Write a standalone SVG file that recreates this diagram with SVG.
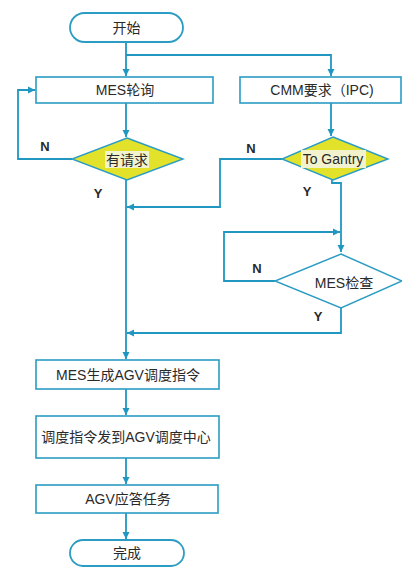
<svg xmlns="http://www.w3.org/2000/svg" width="402" height="568" viewBox="0 0 402 568">
<style>
.box{fill:#fff;stroke:#2b9cc3;stroke-width:1.6}
.term{fill:#fff;stroke:#2b9cc3;stroke-width:1.8}
.dy{fill:#e2e22a;stroke:#2b9cc3;stroke-width:1.4}
.dw{fill:#fff;stroke:#2b9cc3;stroke-width:1.4}
.ln{fill:none;stroke:#1f97c0;stroke-width:1.8}
text{font-family:"Liberation Sans","Noto Sans CJK SC",sans-serif;font-size:14px;fill:#2a2a2a;text-anchor:middle;dominant-baseline:central}
.lb{font-weight:bold;font-size:13px}
</style>
<defs>
<marker id="ar" markerWidth="8" markerHeight="8" refX="7" refY="4" orient="auto" markerUnits="userSpaceOnUse">
<path d="M0,0.5 L7,4 L0,7.5 Z" fill="#1f97c0"/>
</marker>
</defs>
<rect width="402" height="568" fill="#fff"/>
<g id="connectors">
<path class="ln" d="M126,42 V76" marker-end="url(#ar)"/>
<path class="ln" d="M126,55 H331 V76" marker-end="url(#ar)"/>
<path class="ln" d="M126,103 V137" marker-end="url(#ar)"/>
<path class="ln" d="M331,103 V136" marker-end="url(#ar)"/>
<path class="ln" d="M72,159 H18 V90 H35" marker-end="url(#ar)"/>
<path class="ln" d="M282,159 H220 V207 H127" marker-end="url(#ar)"/>
<path class="ln" d="M332,180 V183 H341 V252" marker-end="url(#ar)"/>
<path class="ln" d="M275,281 H224 V232 H340" marker-end="url(#ar)"/>
<path class="ln" d="M341,308 V333 H127" marker-end="url(#ar)"/>
<path class="ln" d="M126,180 V359" marker-end="url(#ar)"/>
<path class="ln" d="M126,389 V415" marker-end="url(#ar)"/>
<path class="ln" d="M126,458 V484" marker-end="url(#ar)"/>
<path class="ln" d="M126,513 V539" marker-end="url(#ar)"/>
</g>
<g id="start"><rect class="term" x="70" y="13" width="113" height="29" rx="14.5"/><text x="126.5" y="28">开始</text></g>
<g id="mes-poll"><rect class="box" x="36" y="77" width="177" height="26"/><text x="125" y="90">MES轮询</text></g>
<g id="cmm"><rect class="box" x="240" y="77" width="161" height="26"/><text x="322" y="90">CMM要求（IPC)</text></g>
<g id="has-request"><polygon class="dy" points="127,138 183,159 127,180 72,159"/><rect x="105" y="151" width="44" height="17" fill="#f2f2cc"/><text x="127" y="159.5">有请求</text></g>
<g id="to-gantry"><polygon class="dy" points="333,137 388,159 333,180 282,159"/><rect x="301" y="150" width="65" height="18" fill="#f2f2cc"/><text x="333" y="158.5">To Gantry</text></g>
<g id="mes-check"><polygon class="dw" points="341,254 402,281 341,308 275,281"/><text x="344" y="283">MES检查</text></g>
<g id="mes-gen"><rect class="box" x="36" y="360" width="183" height="29"/><text x="128" y="375">MES生成AGV调度指令</text></g>
<g id="send"><rect class="box" x="36" y="416" width="183" height="42"/><text x="126" y="437">调度指令发到AGV调度中心</text></g>
<g id="agv-ack"><rect class="box" x="36" y="485" width="182" height="28"/><text x="128" y="499">AGV应答任务</text></g>
<g id="end"><rect class="term" x="70" y="540" width="114" height="26" rx="13"/><text x="127" y="553">完成</text></g>
<g id="labels">
<text class="lb" x="45" y="146">N</text>
<text class="lb" x="98" y="193">Y</text>
<text class="lb" x="251" y="148">N</text>
<text class="lb" x="307" y="191">Y</text>
<text class="lb" x="257" y="268">N</text>
<text class="lb" x="318" y="316">Y</text>
</g>
</svg>
